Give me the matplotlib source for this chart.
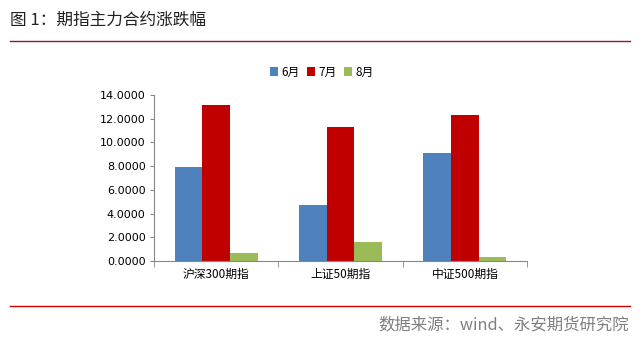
import matplotlib
matplotlib.use("Agg")
import matplotlib.pyplot as plt
import numpy as np

plt.rcParams['font.family'] = ['Noto Sans CJK SC', 'DejaVu Sans']

categories = ['沪深300期指', '上证50期指', '中证500期指']
series_names = ['6月', '7月', '8月']
jun = [7.93, 4.72, 9.11]
jul = [13.16, 11.30, 12.31]
aug = [0.67, 1.60, 0.34]
yticks = [0, 2, 4, 6, 8, 10, 12, 14]
colors = ['#4F81BD', '#C00000', '#9BBB59']

W, H = 643, 342
fig = plt.figure(figsize=(W/100, H/100), dpi=100)

# axes area in pixels: x 154..527, y 95..261
ax = fig.add_axes([154/W, 1-261/H, (527-154)/W, (261-95)/H])
x = np.arange(len(categories))
bw = 0.223
for i, (vals, name, c) in enumerate(zip([jun, jul, aug], series_names, colors)):
    ax.bar(x + (i-1)*bw, vals, bw, color=c, label=name, zorder=2)

ax.set_xlim(-0.5, 2.5)
ax.set_ylim(0, 14)
ax.set_yticks(yticks)
ax.set_yticklabels([f'{v:.4f}' for v in yticks], fontsize=8, family=['DejaVu Sans'])
ax.set_xticks(x)
ax.set_xticklabels(categories, fontsize=8.5)
ax.set_xticks([-0.5, 0.5, 1.5, 2.5], minor=True)
ax.tick_params(axis='x', which='major', length=0, pad=5)
ax.tick_params(axis='x', which='minor', length=4, color='#868686')
ax.tick_params(axis='y', length=3, color='#868686', pad=3)
for s in ['top', 'right']:
    ax.spines[s].set_visible(False)
for s in ['left', 'bottom']:
    ax.spines[s].set_color('#868686')

leg = fig.legend(loc='center', bbox_to_anchor=(322/W, 1-72/H), ncol=3, frameon=False,
                 fontsize=8.5, handlelength=0.7, handleheight=0.7, handletextpad=0.3,
                 columnspacing=0.6)

fig.text(10/W, 1-20/H, '图 1：期指主力合约涨跌幅', fontsize=12, va='center', ha='left', color='#222222')
fig.add_artist(plt.Line2D([10/W, 630/W], [1-41/H, 1-41/H], color='#8B1A3A', lw=1))
fig.add_artist(plt.Line2D([10/W, 630/W], [1-306/H, 1-306/H], color='#D00000', lw=1))
fig.text(629/W, 1-325/H, '数据来源：wind、永安期货研究院', fontsize=11.8, va='center', ha='right', color='#7F7F7F')

fig.savefig('out.png', dpi=100)
